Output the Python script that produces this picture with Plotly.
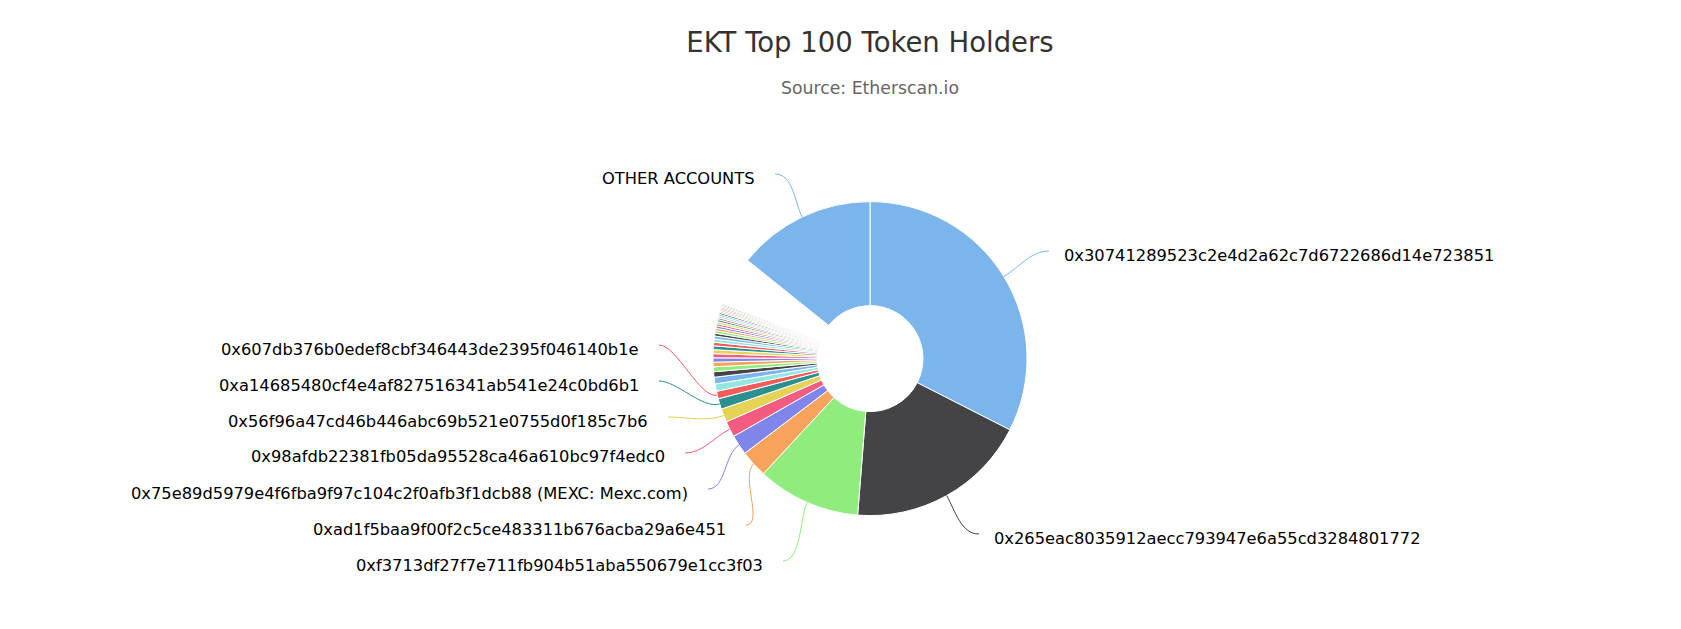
import math
import plotly.graph_objects as go

# Share of supply held (%), ordered by rank, last entry = all other accounts
top_holders = [
    "0x30741289523c2e4d2a62c7d6722686d14e723851",
    "0x265eac8035912aecc793947e6a55cd3284801772",
    "0xf3713df27f7e711fb904b51aba550679e1cc3f03",
    "0xad1f5baa9f00f2c5ce483311b676acba29a6e451",
    "0x75e89d5979e4f6fba9f97c104c2f0afb3f1dcb88 (MEXC: Mexc.com)",
    "0x98afdb22381fb05da95528ca46a610bc97f4edc0",
    "0x56f96a47cd46b446abc69b521e0755d0f185c7b6",
    "0xa14685480cf4e4af827516341ab541e24c0bd6b1",
    "0x607db376b0edef8cbf346443de2395f046140b1e",
]
top_shares = [32.4, 18.7, 10.6, 2.8, 2.05, 1.64, 1.39, 1.08, 0.78]

# ranks 10..39 (visible thin slices)
mid_shares = [0.75, 0.69, 0.56, 0.50, 0.47, 0.44, 0.42, 0.41, 0.39, 0.36,
              0.33, 0.31, 0.28, 0.27, 0.25, 0.24, 0.22, 0.22, 0.21, 0.19,
              0.19, 0.18, 0.17, 0.16, 0.15, 0.14, 0.14, 0.13, 0.13, 0.12]

# ranks 40..100 (hair-thin slices)
tail_shares = [0.115, 0.113, 0.111, 0.109, 0.107, 0.105, 0.103, 0.102, 0.100, 0.099,
               0.098, 0.097, 0.096, 0.094, 0.093, 0.092, 0.091, 0.090, 0.089, 0.088,
               0.087, 0.087, 0.086, 0.085, 0.084, 0.083, 0.083, 0.082, 0.081, 0.080,
               0.080, 0.079, 0.078, 0.078, 0.077, 0.076, 0.076, 0.075, 0.075, 0.074,
               0.073, 0.073, 0.072, 0.072, 0.071, 0.071, 0.070, 0.070, 0.069, 0.069,
               0.068, 0.068, 0.067, 0.067, 0.066, 0.066, 0.066, 0.065, 0.065, 0.065, 0.064]

other_label = "OTHER ACCOUNTS"
other_share = 14.2

title = "EKT Top 100 Token Holders"
subtitle = "Source: Etherscan.io"

values = top_shares + mid_shares + tail_shares + [other_share]
names = top_holders + [f"Holder #{i + 1}" for i in range(len(top_holders), 100)] + [other_label]

palette = ['#7cb5ec', '#434348', '#90ed7d', '#f7a35c', '#8085e9',
           '#f15c80', '#e4d354', '#2b908f', '#f45b5b', '#91e8e1']
colors = [palette[i % len(palette)] for i in range(len(values))]

# hair-thin slices get swallowed by their white borders, as in the original
n_head = len(top_shares) + len(mid_shares)
border_w = [1] * n_head + [1.8] * len(tail_shares) + [1]

# page geometry (px); the page body adds an 8px margin
W, H = 1681, 629
PAD = 8
CX, CY, R = 870, 358.6, 157
HOLE = 53 / 157

# label placement: index -> (x, y, side)
label_pos = {
    0: (1062, 255, 'left'),
    1: (992, 538, 'left'),
    2: (765, 565, 'right'),
    3: (728, 529, 'right'),
    4: (690, 493, 'right'),
    5: (667, 457, 'right'),
    6: (650, 421, 'right'),
    7: (641, 385, 'right'),
    8: (641, 349, 'right'),
    len(values) - 1: (757, 178, 'right'),
}


def px(x):
    return (x - PAD) / W


def py(y):
    return 1 - (y - PAD) / H


fig = go.Figure(go.Pie(
    labels=names, values=values,
    sort=False, direction='clockwise', rotation=0,
    hole=HOLE, textinfo='none',
    marker=dict(colors=colors, line=dict(color='white', width=border_w)),
    domain=dict(x=[px(CX - R), px(CX + R)], y=[py(CY + R), py(CY - R)]),
    showlegend=False,
))

# slice middle angles (clockwise from 12 o'clock)
total = sum(values)
mids = []
acc = 0
for v in values:
    mids.append((acc + v / 2) / total * 360)
    acc += v

shapes, annotations = [], []
for i, (lx, ly, side) in label_pos.items():
    a = math.radians(mids[i])
    ux, uy = math.sin(a), -math.cos(a)
    x0, y0 = CX + R * ux, CY + R * uy
    c1x, c1y = x0 + 18 * ux, y0 + 18 * uy
    if side == 'left':
        ex, ey = lx - 13, ly - 4
        c2x = ex - 18
    else:
        ex, ey = lx + 18, ly - 4
        c2x = ex + 18
    path = (f"M {px(x0)},{py(y0)} C {px(c1x)},{py(c1y)} "
            f"{px(c2x)},{py(ey)} {px(ex)},{py(ey)}")
    shapes.append(dict(type='path', path=path, xref='paper', yref='paper',
                       line=dict(color=colors[i], width=1)))
    annotations.append(dict(text=names[i], x=px(lx), y=py(ly), xref='paper', yref='paper',
                            xanchor=side, yanchor='middle', showarrow=False,
                            font=dict(size=16.3, color='#000000')))

annotations.append(dict(text=subtitle, x=px(870), y=py(88), xref='paper', yref='paper',
                        xanchor='center', yanchor='middle', showarrow=False,
                        font=dict(size=17.3, color='#666666')))

fig.update_layout(
    width=W, height=H,
    margin=dict(l=0, r=0, t=0, b=0),
    paper_bgcolor='white', plot_bgcolor='white',
    font=dict(family='DejaVu Sans, Verdana, sans-serif'),
    title=dict(text=title, x=px(870), y=py(42), xanchor='center', yanchor='middle',
               font=dict(size=27.5, color='#333333')),
    shapes=shapes,
    annotations=annotations,
)

fig.write_html("out.html")
